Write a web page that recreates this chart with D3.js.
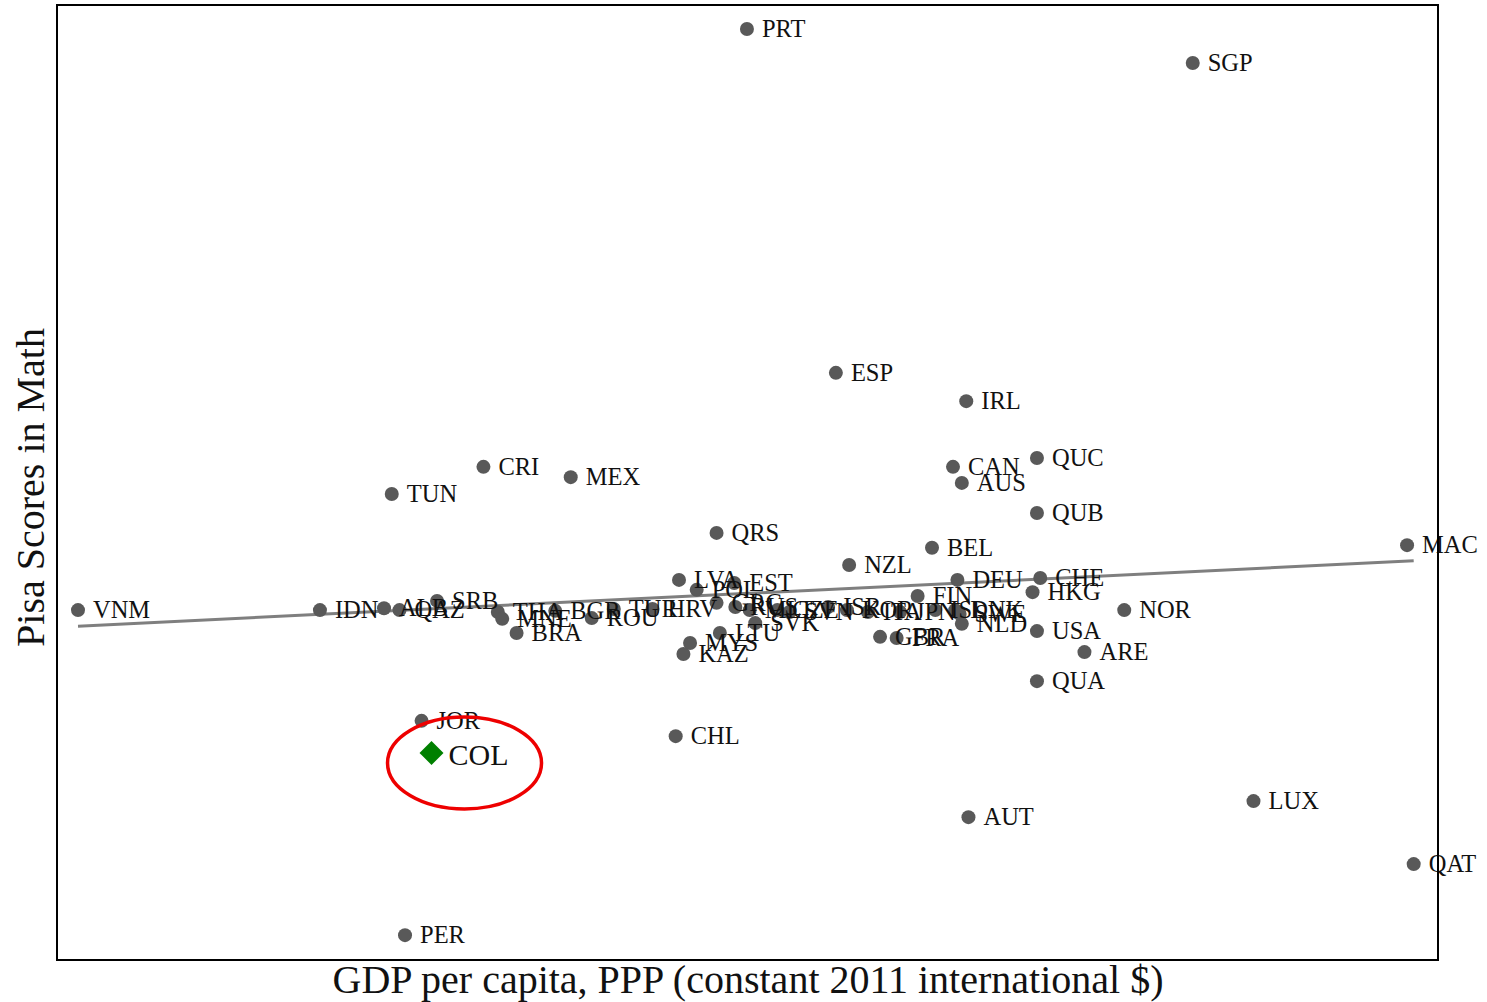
<!DOCTYPE html>
<html><head><meta charset="utf-8">
<script src="https://cdn.jsdelivr.net/npm/d3@7"></script>
<style>body{margin:0;background:#fff;}svg{display:block;}</style>
</head><body>
<svg id="chart" width="1487" height="1002"></svg>
<script>
// GDP per capita (thousand int. $) and PISA math score
const countries = ["PRT","SGP","ESP","IRL","QUC","CAN","AUS","CRI","MEX","TUN","QUB","QRS","BEL","MAC","NZL","LVA","POL","EST","GRC","RUS","VNM","IDN","ALB","QAZ","SRB","THA","MNE","BRA","BGR","ROU","TUR","HRV","MLT","CZE","SVN","ISR","KOR","ITA","JPN","ISL","FIN","DNK","SWE","NLD","DEU","CHE","HKG","NOR","USA","ARE","QUA","GBR","FRA","LTU","SVK","MYS","KAZ","CHL","JOR","AUT","LUX","QAT","PER"];
const gdp = [62.45,102.8,70.5,82.3,88.7,81.1,81.9,38.6,46.5,30.3,88.7,59.7,79.2,122.2,71.7,56.3,57.9,61.3,59.7,61.4,1.9,23.8,29.6,31.0,34.4,39.9,40.3,41.6,45.1,48.4,50.4,53.9,62.7,65.2,66.3,69.8,71.5,73.4,76.3,79.5,77.9,81.3,81.7,81.9,81.5,89.0,88.3,96.6,88.7,93.0,88.7,74.5,76.0,60.0,63.2,57.3,56.7,56.0,33.0,82.5,108.3,122.8,31.5];
const score = [593.7,584.8,503.7,496.3,481.4,479.1,474.9,479.1,476.4,472.0,467.0,461.8,457.9,458.6,453.4,449.5,446.9,448.7,443.5,442.4,441.6,441.6,442.1,441.6,444.0,441.1,439.3,435.6,441.4,439.5,441.9,441.9,441.6,441.6,441.1,442.4,441.6,441.1,441.1,441.6,445.3,441.6,440.6,438.0,449.5,450.0,446.3,441.6,436.1,430.6,423.0,434.6,434.3,435.6,438.2,433.0,430.1,408.6,412.6,387.4,391.6,375.1,356.5];
const highlight = {name:"COL", gdp:33.9, score:404.2};
const fitGdp = [1.9, 122.8];
const fitScore = [437.4, 454.5];
const xTitle = "GDP per capita, PPP (constant 2011 international $)";
const yTitle = "Pisa Scores in Math";

const svg = d3.select("#chart");
const L=57, R=1438, T=5, B=960;
const x = d3.scaleLinear().domain([0,125]).range([L,R]);
const y = d3.scaleLinear().domain([350,600]).range([B,T]);
const serif = "Liberation Serif, Times New Roman, serif";

// regression line
svg.append("path")
  .datum(fitGdp.map((g,i)=>[g,fitScore[i]]))
  .attr("d", d3.line().x(d=>x(d[0])).y(d=>y(d[1])))
  .attr("stroke","#7f7f7f").attr("stroke-width",3).attr("fill","none");

const data = countries.map((c,i)=>({c, g:gdp[i], s:score[i]}));
svg.append("g").selectAll("circle").data(data).join("circle")
  .attr("cx",d=>x(d.g)).attr("cy",d=>y(d.s)).attr("r",7).attr("fill","#595959");
svg.append("g").selectAll("text").data(data).join("text")
  .attr("x",d=>x(d.g)+15).attr("y",d=>y(d.s)+8)
  .attr("font-family",serif).attr("font-size",24.5)
  .attr("fill","#111").text(d=>d.c);

// highlighted
const hx=x(highlight.gdp), hy=y(highlight.score);
svg.append("path").attr("d", `M${hx},${hy-12}L${hx+12},${hy}L${hx},${hy+12}L${hx-12},${hy}Z`)
  .attr("fill","#008000");
svg.append("text").attr("x",hx+17).attr("y",hy+12)
  .attr("font-family",serif).attr("font-size",30)
  .attr("fill","#111").text(highlight.name);
svg.append("ellipse").attr("cx",hx+33).attr("cy",hy+10).attr("rx",77).attr("ry",46)
  .attr("fill","none").attr("stroke","#ee0000").attr("stroke-width",3.5);

// frame
svg.append("rect").attr("x",L).attr("y",T).attr("width",R-L).attr("height",B-T)
  .attr("fill","none").attr("stroke","#000").attr("stroke-width",2);

svg.append("text").attr("x",748).attr("y",993).attr("text-anchor","middle")
  .attr("font-family",serif).attr("font-size",40)
  .attr("fill","#111").text(xTitle);
svg.append("text").attr("transform",`translate(44,${(T+B)/2+5}) rotate(-90)`).attr("text-anchor","middle")
  .attr("font-family",serif).attr("font-size",40)
  .attr("fill","#111").text(yTitle);
</script>
</body></html>
